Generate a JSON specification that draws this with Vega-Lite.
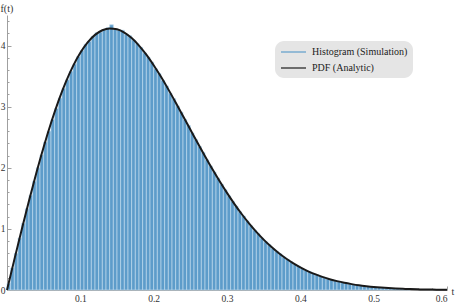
{
  "$schema": "https://vega.github.io/schema/vega-lite/v6.json",
  "width": 440,
  "height": 275,
  "autosize": {"type": "none"},
  "padding": {"left": 7, "top": 15, "right": 11, "bottom": 13},
  "background": "white",
  "config": {
    "view": {"stroke": null},
    "font": "Liberation Serif",
    "axis": {
      "grid": false,
      "labelFont": "Liberation Serif",
      "titleFont": "Liberation Serif",
      "labelFontSize": 9.5,
      "titleFontSize": 10,
      "titleFontWeight": "normal",
      "labelColor": "#333333",
      "titleColor": "#333333",
      "domainColor": "#a0a0a0",
      "tickColor": "#a0a0a0",
      "domainWidth": 1,
      "tickWidth": 1
    },
    "legend": {
      "labelFont": "Liberation Serif",
      "labelFontSize": 10,
      "labelColor": "#222222"
    }
  },
  "datasets": {
    "hist": [
      {"t0":0.000,"t1":0.005,"d":0.11},{"t0":0.005,"t1":0.010,"d":0.36},{"t0":0.010,"t1":0.015,"d":0.60},{"t0":0.015,"t1":0.020,"d":0.85},
      {"t0":0.020,"t1":0.025,"d":1.09},{"t0":0.025,"t1":0.030,"d":1.33},{"t0":0.030,"t1":0.035,"d":1.55},{"t0":0.035,"t1":0.040,"d":1.78},
      {"t0":0.040,"t1":0.045,"d":2.00},{"t0":0.045,"t1":0.050,"d":2.21},{"t0":0.050,"t1":0.055,"d":2.42},{"t0":0.055,"t1":0.060,"d":2.60},
      {"t0":0.060,"t1":0.065,"d":2.79},{"t0":0.065,"t1":0.070,"d":2.97},{"t0":0.070,"t1":0.075,"d":3.14},{"t0":0.075,"t1":0.080,"d":3.30},
      {"t0":0.080,"t1":0.085,"d":3.44},{"t0":0.085,"t1":0.090,"d":3.58},{"t0":0.090,"t1":0.095,"d":3.70},{"t0":0.095,"t1":0.100,"d":3.82},
      {"t0":0.100,"t1":0.105,"d":3.92},{"t0":0.105,"t1":0.110,"d":4.02},{"t0":0.110,"t1":0.115,"d":4.07},{"t0":0.115,"t1":0.120,"d":4.15},
      {"t0":0.120,"t1":0.125,"d":4.21},{"t0":0.125,"t1":0.130,"d":4.22},{"t0":0.130,"t1":0.135,"d":4.26},{"t0":0.135,"t1":0.140,"d":4.29},
      {"t0":0.140,"t1":0.145,"d":4.34},{"t0":0.145,"t1":0.150,"d":4.27},{"t0":0.150,"t1":0.155,"d":4.25},{"t0":0.155,"t1":0.160,"d":4.25},
      {"t0":0.160,"t1":0.165,"d":4.18},{"t0":0.165,"t1":0.170,"d":4.16},{"t0":0.170,"t1":0.175,"d":4.09},{"t0":0.175,"t1":0.180,"d":4.03},
      {"t0":0.180,"t1":0.185,"d":3.97},{"t0":0.185,"t1":0.190,"d":3.88},{"t0":0.190,"t1":0.195,"d":3.81},{"t0":0.195,"t1":0.200,"d":3.73},
      {"t0":0.200,"t1":0.205,"d":3.62},{"t0":0.205,"t1":0.210,"d":3.54},{"t0":0.210,"t1":0.215,"d":3.43},{"t0":0.215,"t1":0.220,"d":3.34},
      {"t0":0.220,"t1":0.225,"d":3.22},{"t0":0.225,"t1":0.230,"d":3.13},{"t0":0.230,"t1":0.235,"d":3.01},{"t0":0.235,"t1":0.240,"d":2.91},
      {"t0":0.240,"t1":0.245,"d":2.79},{"t0":0.245,"t1":0.250,"d":2.69},{"t0":0.250,"t1":0.255,"d":2.57},{"t0":0.255,"t1":0.260,"d":2.46},
      {"t0":0.260,"t1":0.265,"d":2.35},{"t0":0.265,"t1":0.270,"d":2.25},{"t0":0.270,"t1":0.275,"d":2.13},{"t0":0.275,"t1":0.280,"d":2.03},
      {"t0":0.280,"t1":0.285,"d":1.93},{"t0":0.285,"t1":0.290,"d":1.83},{"t0":0.290,"t1":0.295,"d":1.73},{"t0":0.295,"t1":0.300,"d":1.64},
      {"t0":0.300,"t1":0.305,"d":1.54},{"t0":0.305,"t1":0.310,"d":1.45},{"t0":0.310,"t1":0.315,"d":1.37},{"t0":0.315,"t1":0.320,"d":1.28},
      {"t0":0.320,"t1":0.325,"d":1.21},{"t0":0.325,"t1":0.330,"d":1.13},{"t0":0.330,"t1":0.335,"d":1.05},{"t0":0.335,"t1":0.340,"d":0.98},
      {"t0":0.340,"t1":0.345,"d":0.92},{"t0":0.345,"t1":0.350,"d":0.85},{"t0":0.350,"t1":0.355,"d":0.79},{"t0":0.355,"t1":0.360,"d":0.74},
      {"t0":0.360,"t1":0.365,"d":0.68},{"t0":0.365,"t1":0.370,"d":0.63},{"t0":0.370,"t1":0.375,"d":0.59},{"t0":0.375,"t1":0.380,"d":0.54},
      {"t0":0.380,"t1":0.385,"d":0.50},{"t0":0.385,"t1":0.390,"d":0.46},{"t0":0.390,"t1":0.395,"d":0.42},{"t0":0.395,"t1":0.400,"d":0.39},
      {"t0":0.400,"t1":0.405,"d":0.35},{"t0":0.405,"t1":0.410,"d":0.32},{"t0":0.410,"t1":0.415,"d":0.30},{"t0":0.415,"t1":0.420,"d":0.27},
      {"t0":0.420,"t1":0.425,"d":0.25},{"t0":0.425,"t1":0.430,"d":0.22},{"t0":0.430,"t1":0.435,"d":0.20},{"t0":0.435,"t1":0.440,"d":0.18},
      {"t0":0.440,"t1":0.445,"d":0.17},{"t0":0.445,"t1":0.450,"d":0.15},{"t0":0.450,"t1":0.455,"d":0.14},{"t0":0.455,"t1":0.460,"d":0.12},
      {"t0":0.460,"t1":0.465,"d":0.11},{"t0":0.465,"t1":0.470,"d":0.10},{"t0":0.470,"t1":0.475,"d":0.09},{"t0":0.475,"t1":0.480,"d":0.08},
      {"t0":0.480,"t1":0.485,"d":0.07},{"t0":0.485,"t1":0.490,"d":0.065},{"t0":0.490,"t1":0.495,"d":0.058},{"t0":0.495,"t1":0.500,"d":0.052},
      {"t0":0.500,"t1":0.505,"d":0.046},{"t0":0.505,"t1":0.510,"d":0.041},{"t0":0.510,"t1":0.515,"d":0.036},{"t0":0.515,"t1":0.520,"d":0.031},
      {"t0":0.520,"t1":0.525,"d":0.028},{"t0":0.525,"t1":0.530,"d":0.024},{"t0":0.530,"t1":0.535,"d":0.021},{"t0":0.535,"t1":0.540,"d":0.018},
      {"t0":0.540,"t1":0.545,"d":0.016},{"t0":0.545,"t1":0.550,"d":0.014}
    ],
    "pdf": [
      {"t":0.00,"f":0.000,"s":"PDF (Analytic)"},{"t":0.01,"f":0.497,"s":"PDF (Analytic)"},{"t":0.02,"f":0.986,"s":"PDF (Analytic)"},
      {"t":0.03,"f":1.461,"s":"PDF (Analytic)"},{"t":0.04,"f":1.914,"s":"PDF (Analytic)"},{"t":0.05,"f":2.340,"s":"PDF (Analytic)"},
      {"t":0.06,"f":2.732,"s":"PDF (Analytic)"},{"t":0.07,"f":3.086,"s":"PDF (Analytic)"},{"t":0.08,"f":3.397,"s":"PDF (Analytic)"},
      {"t":0.09,"f":3.663,"s":"PDF (Analytic)"},{"t":0.10,"f":3.882,"s":"PDF (Analytic)"},{"t":0.11,"f":4.053,"s":"PDF (Analytic)"},
      {"t":0.12,"f":4.175,"s":"PDF (Analytic)"},{"t":0.13,"f":4.250,"s":"PDF (Analytic)"},{"t":0.14,"f":4.279,"s":"PDF (Analytic)"},
      {"t":0.15,"f":4.266,"s":"PDF (Analytic)"},{"t":0.16,"f":4.212,"s":"PDF (Analytic)"},{"t":0.17,"f":4.122,"s":"PDF (Analytic)"},
      {"t":0.18,"f":4.000,"s":"PDF (Analytic)"},{"t":0.19,"f":3.851,"s":"PDF (Analytic)"},{"t":0.20,"f":3.678,"s":"PDF (Analytic)"},
      {"t":0.21,"f":3.488,"s":"PDF (Analytic)"},{"t":0.22,"f":3.283,"s":"PDF (Analytic)"},{"t":0.23,"f":3.068,"s":"PDF (Analytic)"},
      {"t":0.24,"f":2.848,"s":"PDF (Analytic)"},{"t":0.25,"f":2.626,"s":"PDF (Analytic)"},{"t":0.26,"f":2.405,"s":"PDF (Analytic)"},
      {"t":0.27,"f":2.189,"s":"PDF (Analytic)"},{"t":0.28,"f":1.979,"s":"PDF (Analytic)"},{"t":0.29,"f":1.779,"s":"PDF (Analytic)"},
      {"t":0.30,"f":1.589,"s":"PDF (Analytic)"},{"t":0.31,"f":1.410,"s":"PDF (Analytic)"},{"t":0.32,"f":1.244,"s":"PDF (Analytic)"},
      {"t":0.33,"f":1.091,"s":"PDF (Analytic)"},{"t":0.34,"f":0.952,"s":"PDF (Analytic)"},{"t":0.35,"f":0.825,"s":"PDF (Analytic)"},
      {"t":0.36,"f":0.711,"s":"PDF (Analytic)"},{"t":0.37,"f":0.609,"s":"PDF (Analytic)"},{"t":0.38,"f":0.519,"s":"PDF (Analytic)"},
      {"t":0.39,"f":0.440,"s":"PDF (Analytic)"},{"t":0.40,"f":0.371,"s":"PDF (Analytic)"},{"t":0.41,"f":0.310,"s":"PDF (Analytic)"},
      {"t":0.42,"f":0.259,"s":"PDF (Analytic)"},{"t":0.43,"f":0.214,"s":"PDF (Analytic)"},{"t":0.44,"f":0.177,"s":"PDF (Analytic)"},
      {"t":0.45,"f":0.145,"s":"PDF (Analytic)"},{"t":0.46,"f":0.118,"s":"PDF (Analytic)"},{"t":0.47,"f":0.096,"s":"PDF (Analytic)"},
      {"t":0.48,"f":0.077,"s":"PDF (Analytic)"},{"t":0.49,"f":0.062,"s":"PDF (Analytic)"},{"t":0.50,"f":0.049,"s":"PDF (Analytic)"},
      {"t":0.51,"f":0.039,"s":"PDF (Analytic)"},{"t":0.52,"f":0.031,"s":"PDF (Analytic)"},{"t":0.53,"f":0.024,"s":"PDF (Analytic)"},
      {"t":0.54,"f":0.019,"s":"PDF (Analytic)"},{"t":0.55,"f":0.015,"s":"PDF (Analytic)"},{"t":0.56,"f":0.011,"s":"PDF (Analytic)"},
      {"t":0.57,"f":0.009,"s":"PDF (Analytic)"},{"t":0.58,"f":0.007,"s":"PDF (Analytic)"},{"t":0.59,"f":0.005,"s":"PDF (Analytic)"},
      {"t":0.60,"f":0.004,"s":"PDF (Analytic)"}
    ]
  },
  "layer": [
    {
      "data": {"name": "hist"},
      "mark": {"type": "rect", "fill": "#5d9cca", "stroke": "#bcd8ec", "strokeWidth": 0.7},
      "encoding": {
        "x": {
          "field": "t0", "type": "quantitative",
          "scale": {"domain": [0, 0.6], "nice": false, "zero": false},
          "axis": {
            "values": [0.1, 0.2, 0.3, 0.4, 0.5, 0.6],
            "format": ".1f",
            "tickSize": -4,
            "labelPadding": 7,
            "title": "t",
            "titleX": 444,
            "titleY": 1,
            "titleAlign": "left",
            "titleBaseline": "middle",
            "titleFontSize": 10
          }
        },
        "x2": {"field": "t1"},
        "y": {
          "field": "d", "type": "quantitative",
          "scale": {"domain": [0, 4.5], "nice": false},
          "axis": {
            "values": [0, 1, 2, 3, 4],
            "tickSize": -4,
            "labelPadding": 6,
            "title": "f(t)",
            "titleAngle": 0,
            "titleX": -7,
            "titleY": -7,
            "titleAlign": "left",
            "titleBaseline": "middle",
            "titleFontSize": 10
          }
        },
        "y2": {"datum": 0}
      }
    },
    {
      "data": {"name": "pdf"},
      "mark": {"type": "line", "strokeWidth": 2, "interpolate": "monotone"},
      "encoding": {
        "x": {
          "field": "t", "type": "quantitative",
          "axis": {
            "orient": "bottom",
            "values": [0.02, 0.04, 0.06, 0.08, 0.12, 0.14, 0.16, 0.18, 0.22, 0.24, 0.26, 0.28, 0.32, 0.34, 0.36, 0.38, 0.42, 0.44, 0.46, 0.48, 0.52, 0.54, 0.56, 0.58],
            "labels": false,
            "domain": false,
            "tickSize": -2,
            "title": null
          }
        },
        "y": {
          "field": "f", "type": "quantitative",
          "axis": {
            "orient": "left",
            "values": [0.2, 0.4, 0.6, 0.8, 1.2, 1.4, 1.6, 1.8, 2.2, 2.4, 2.6, 2.8, 3.2, 3.4, 3.6, 3.8, 4.2, 4.4],
            "labels": false,
            "domain": false,
            "tickSize": -2,
            "title": null
          }
        },
        "color": {
          "field": "s", "type": "nominal",
          "scale": {"domain": ["Histogram (Simulation)", "PDF (Analytic)"], "range": ["#5d9cca", "#1a1a1a"]},
          "legend": {
            "title": null,
            "orient": "none",
            "legendX": 268,
            "legendY": 26,
            "fillColor": "#e5e5e5",
            "cornerRadius": 9,
            "padding": 5,
            "rowPadding": 5,
            "symbolType": "M-1,0H4",
            "symbolSize": 100,
            "symbolStrokeWidth": 1.2,
            "labelOffset": 20,
            "labelFont": "Liberation Serif",
            "labelFontSize": 10
          }
        }
      }
    }
  ],
  "resolve": {"axis": {"x": "independent", "y": "independent"}}
}
